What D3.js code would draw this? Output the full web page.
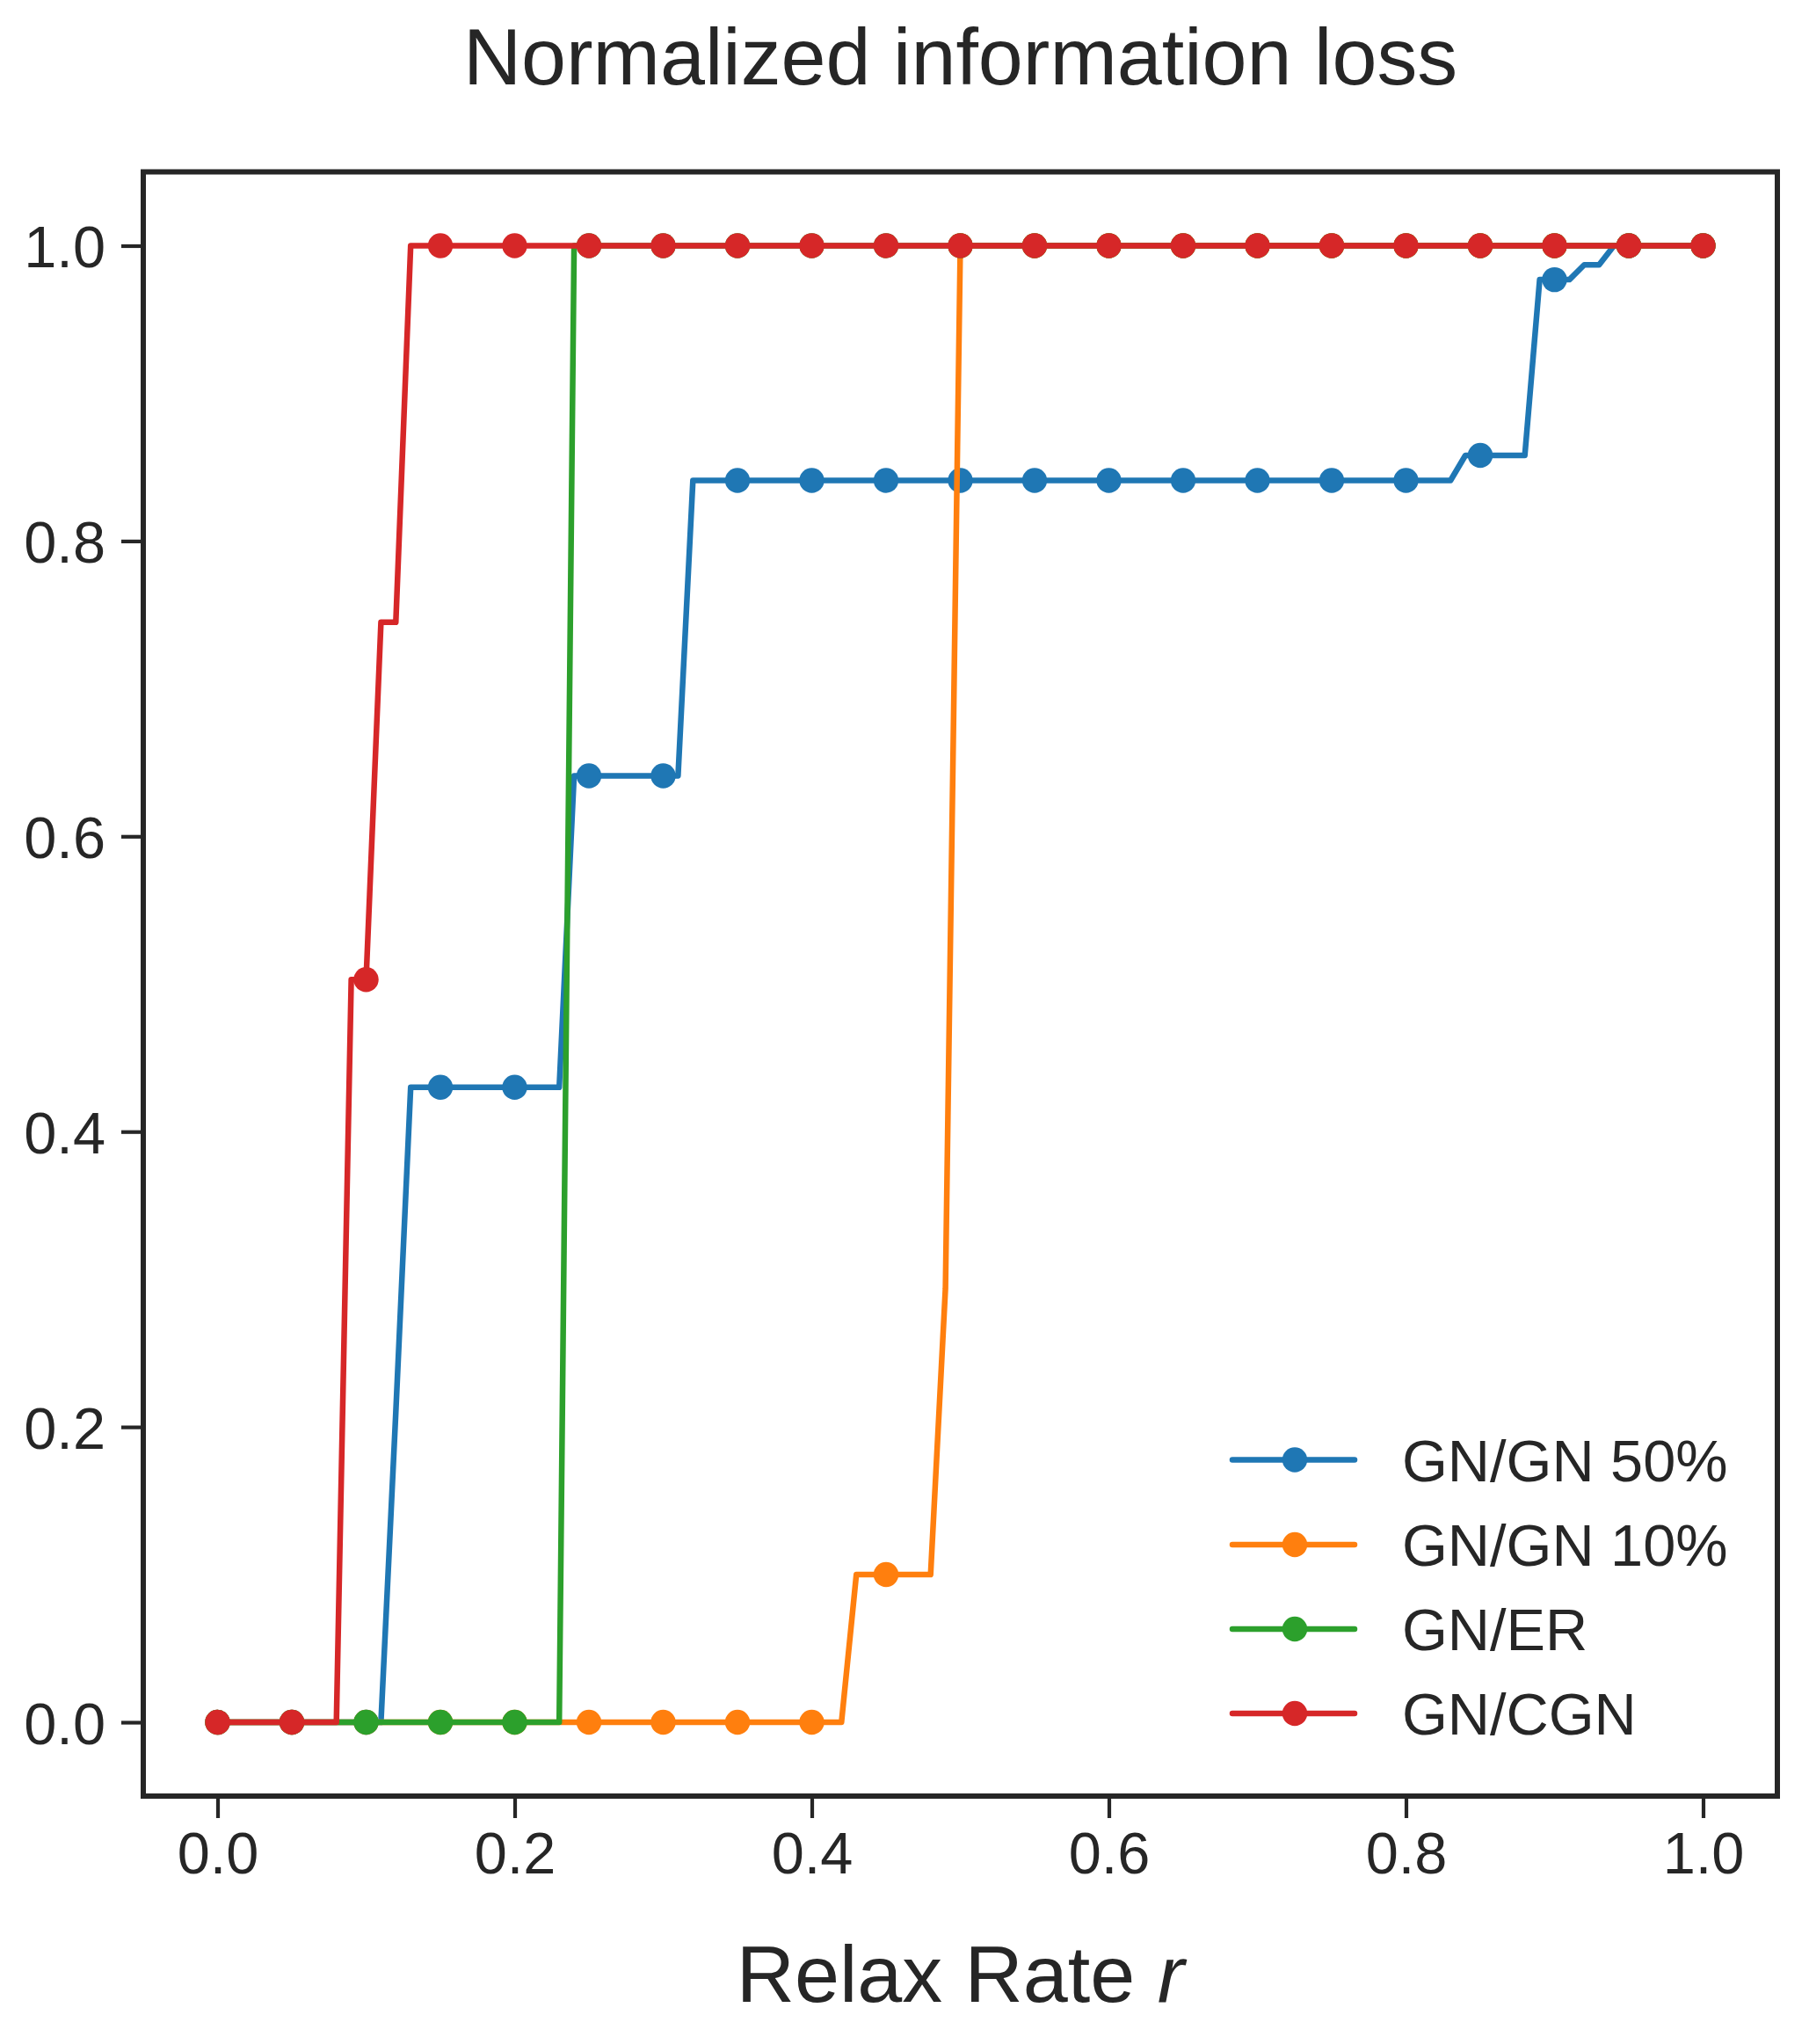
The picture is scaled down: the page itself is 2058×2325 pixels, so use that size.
<!DOCTYPE html>
<html>
<head>
<meta charset="utf-8">
<script src="https://cdn.jsdelivr.net/npm/d3@7"></script>
<style>
  html, body { margin: 0; padding: 0; background: #ffffff; }
  svg { display: block; }
</style>
</head>
<body>
<script>
// ---------------- DATA ----------------
const title = "Normalized information loss";
const xLabel = "Relax Rate ";
const xLabelItalic = "r";

const seriesNames = ["GN/GN 50%", "GN/GN 10%", "GN/ER", "GN/CGN"];
const seriesColors = ["#1f77b4", "#ff7f0e", "#2ca02c", "#d62728"];

// relax rate r sampled every 0.01 from 0.00 to 1.00
const relaxRate = d3.range(0, 101).map(i => i / 100);

// GN/GN 50%
const gnGn50 = [
  0,0,0,0,0,0,0,0,0,0,          // 0.00-0.09
  0,0,0.21,0.43,0.43,0.43,0.43,0.43,0.43,0.43, // 0.10-0.19
  0.43,0.43,0.43,0.43,0.641,0.641,0.641,0.641,0.641,0.641, // 0.20-0.29
  0.641,0.641,0.841,0.841,0.841,0.841,0.841,0.841,0.841,0.841, // 0.30-0.39
  0.841,0.841,0.841,0.841,0.841,0.841,0.841,0.841,0.841,0.841, // 0.40-0.49
  0.841,0.841,0.841,0.841,0.841,0.841,0.841,0.841,0.841,0.841, // 0.50-0.59
  0.841,0.841,0.841,0.841,0.841,0.841,0.841,0.841,0.841,0.841, // 0.60-0.69
  0.841,0.841,0.841,0.841,0.841,0.841,0.841,0.841,0.841,0.841, // 0.70-0.79
  0.841,0.841,0.841,0.841,0.858,0.858,0.858,0.858,0.858,0.977, // 0.80-0.89
  0.977,0.977,0.987,0.987,1,1,1,1,1,1,                       // 0.90-0.99
  1                                                           // 1.00
];

// GN/GN 10%
const gnGn10 = [
  0,0,0,0,0,0,0,0,0,0,          // 0.00-0.09
  0,0,0,0,0,0,0,0,0,0,          // 0.10-0.19
  0,0,0,0,0,0,0,0,0,0,          // 0.20-0.29
  0,0,0,0,0,0,0,0,0,0,          // 0.30-0.39
  0,0,0,0.1,0.1,0.1,0.1,0.1,0.1,0.294, // 0.40-0.49
  1,1,1,1,1,1,1,1,1,1,          // 0.50-0.59
  1,1,1,1,1,1,1,1,1,1,          // 0.60-0.69
  1,1,1,1,1,1,1,1,1,1,          // 0.70-0.79
  1,1,1,1,1,1,1,1,1,1,          // 0.80-0.89
  1,1,1,1,1,1,1,1,1,1,          // 0.90-0.99
  1                             // 1.00
];

// GN/ER
const gnEr = [
  0,0,0,0,0,0,0,0,0,0,          // 0.00-0.09
  0,0,0,0,0,0,0,0,0,0,          // 0.10-0.19
  0,0,0,0,1,1,1,1,1,1,          // 0.20-0.29
  1,1,1,1,1,1,1,1,1,1,          // 0.30-0.39
  1,1,1,1,1,1,1,1,1,1,          // 0.40-0.49
  1,1,1,1,1,1,1,1,1,1,          // 0.50-0.59
  1,1,1,1,1,1,1,1,1,1,          // 0.60-0.69
  1,1,1,1,1,1,1,1,1,1,          // 0.70-0.79
  1,1,1,1,1,1,1,1,1,1,          // 0.80-0.89
  1,1,1,1,1,1,1,1,1,1,          // 0.90-0.99
  1                             // 1.00
];

// GN/CGN
const gnCgn = [
  0,0,0,0,0,0,0,0,0,0.503,      // 0.00-0.09
  0.503,0.745,0.745,1,1,1,1,1,1,1, // 0.10-0.19
  1,1,1,1,1,1,1,1,1,1,          // 0.20-0.29
  1,1,1,1,1,1,1,1,1,1,          // 0.30-0.39
  1,1,1,1,1,1,1,1,1,1,          // 0.40-0.49
  1,1,1,1,1,1,1,1,1,1,          // 0.50-0.59
  1,1,1,1,1,1,1,1,1,1,          // 0.60-0.69
  1,1,1,1,1,1,1,1,1,1,          // 0.70-0.79
  1,1,1,1,1,1,1,1,1,1,          // 0.80-0.89
  1,1,1,1,1,1,1,1,1,1,          // 0.90-0.99
  1                             // 1.00
];

const seriesValues = [gnGn50, gnGn10, gnEr, gnCgn];
const markEvery = 5;

const xTicks = [0.0, 0.2, 0.4, 0.6, 0.8, 1.0];
const yTicks = [0.0, 0.2, 0.4, 0.6, 0.8, 1.0];

// ---------------- LAYOUT ----------------
const W = 2058, H = 2325;
const M = { left: 163, right: 2022, top: 195.5, bottom: 2043 };
const FONT = "'Liberation Sans', Arial, Helvetica, sans-serif";
const TEXT = "#262626";

const svg = d3.select("body").append("svg")
  .attr("width", W).attr("height", H)
  .attr("viewBox", `0 0 ${W} ${H}`);

svg.append("rect").attr("width", W).attr("height", H).attr("fill", "#ffffff");

const x = d3.scaleLinear().domain([-0.05, 1.05]).range([M.left, M.right]);
const y = d3.scaleLinear().domain([-0.05, 1.05]).range([M.bottom, M.top]);

// Axes
const tickLen = 25;
const xAxis = d3.axisBottom(x).tickValues(xTicks).tickFormat(d3.format(".1f"))
  .tickSize(tickLen).tickPadding(15);
const yAxis = d3.axisLeft(y).tickValues(yTicks).tickFormat(d3.format(".1f"))
  .tickSize(tickLen).tickPadding(18);

const gx = svg.append("g").attr("transform", `translate(0,${M.bottom})`).call(xAxis);
const gy = svg.append("g").attr("transform", `translate(${M.left},0)`).call(yAxis);
[gx, gy].forEach(g => {
  g.select(".domain").remove();
  g.selectAll(".tick line").attr("stroke", TEXT).attr("stroke-width", 4.2);
  g.selectAll(".tick text").attr("fill", TEXT)
    .style("font-family", FONT).style("font-size", "66.7px");
});
gx.selectAll(".tick text").attr("dy", "0.72em");
gy.selectAll(".tick text").attr("dy", "0.36em");

// Lines + markers
const plot = svg.append("g");
const line = d3.line().x(d => x(d[0])).y(d => y(d[1]));

seriesValues.forEach((vals, si) => {
  const pts = relaxRate.map((r, i) => [r, vals[i]]);
  const g = plot.append("g");
  g.append("path").datum(pts)
    .attr("d", line)
    .attr("fill", "none")
    .attr("stroke", seriesColors[si])
    .attr("stroke-width", 6.5)
    .attr("stroke-linejoin", "round")
    .attr("stroke-linecap", "round");
  g.selectAll("circle")
    .data(pts.filter((d, i) => i % markEvery === 0))
    .join("circle")
    .attr("cx", d => x(d[0]))
    .attr("cy", d => y(d[1]))
    .attr("r", 14.2)
    .attr("fill", seriesColors[si]);
});

// Frame (spines)
svg.append("rect")
  .attr("x", M.left).attr("y", M.top)
  .attr("width", M.right - M.left).attr("height", M.bottom - M.top)
  .attr("fill", "none").attr("stroke", TEXT).attr("stroke-width", 6);

// Title
svg.append("text")
  .attr("x", (M.left + M.right) / 2).attr("y", 96)
  .attr("text-anchor", "middle")
  .attr("fill", TEXT)
  .style("font-family", FONT).style("font-size", "91.7px")
  .text(title);

// X label
const xl = svg.append("text")
  .attr("x", (M.left + M.right) / 2).attr("y", 2277)
  .attr("text-anchor", "middle")
  .attr("fill", TEXT)
  .style("font-family", FONT).style("font-size", "91.7px");
xl.append("tspan").text(xLabel);
xl.append("tspan").style("font-style", "italic").text(xLabelItalic);

// Legend
const legRows = [1660.5, 1757, 1853, 1949];
const legend = svg.append("g");
seriesNames.forEach((name, i) => {
  const g = legend.append("g").attr("transform", `translate(0,${legRows[i]})`);
  g.append("line").attr("x1", 1402).attr("x2", 1541).attr("y1", 0).attr("y2", 0)
    .attr("stroke", seriesColors[i]).attr("stroke-width", 6.5).attr("stroke-linecap", "round");
  g.append("circle").attr("cx", 1473).attr("cy", 0).attr("r", 14.2).attr("fill", seriesColors[i]);
  g.append("text").attr("x", 1595).attr("y", 24)
    .attr("fill", TEXT)
    .style("font-family", FONT).style("font-size", "66.7px")
    .text(name);
});
</script>
</body>
</html>
